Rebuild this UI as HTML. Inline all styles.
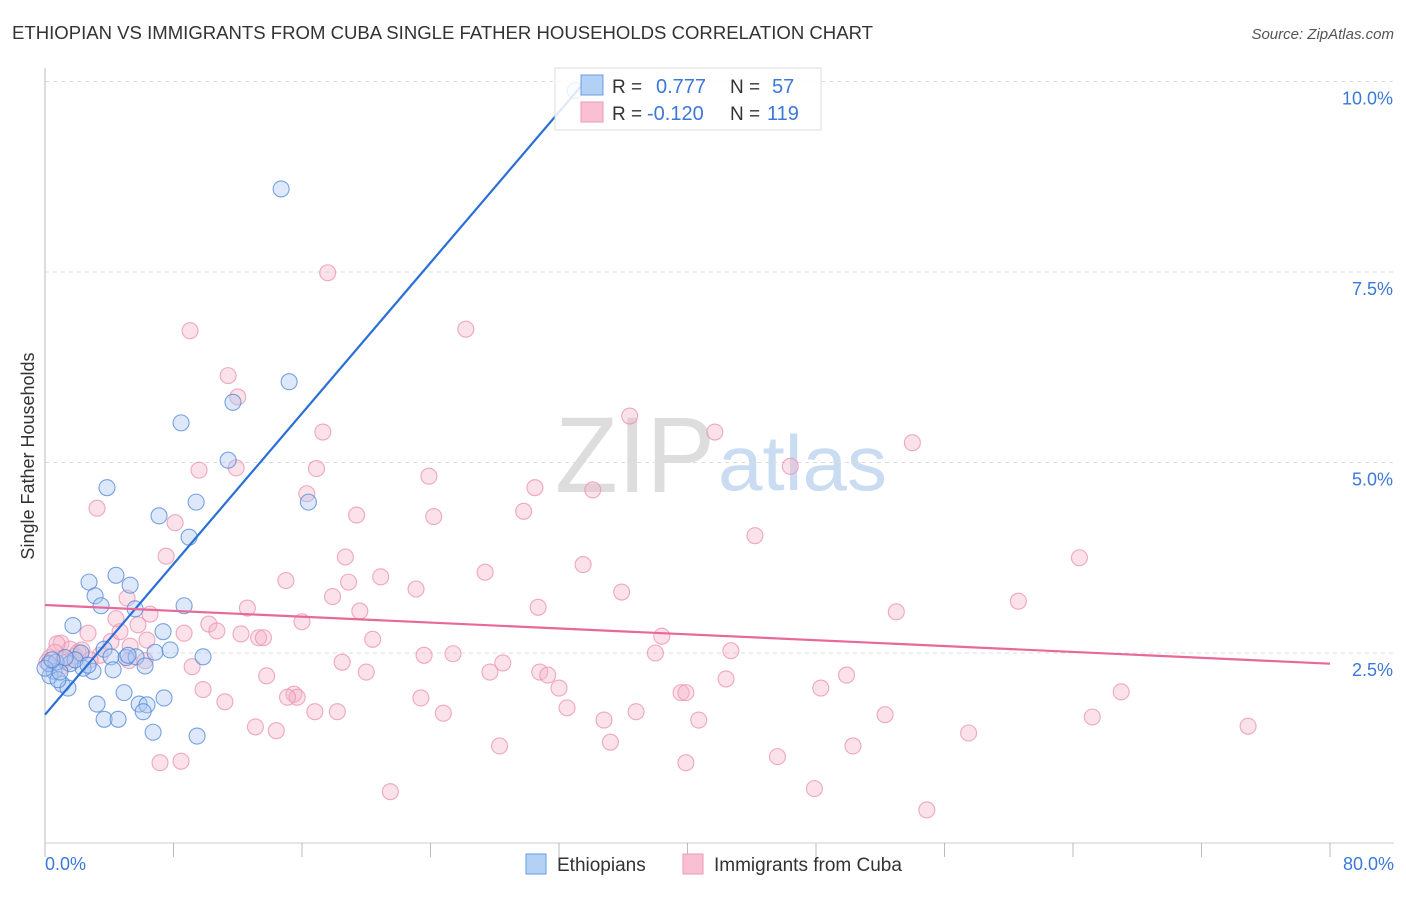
<!DOCTYPE html>
<html><head><meta charset="utf-8"><style>
body{margin:0;background:#fff;font-family:"Liberation Sans",sans-serif;}
svg text{font-family:"Liberation Sans",sans-serif;}
</style></head><body>
<svg id="chart" width="1406" height="892" viewBox="0 0 1406 892" xmlns="http://www.w3.org/2000/svg">
<text x="12" y="39" font-size="18" fill="#333" textLength="861" lengthAdjust="spacingAndGlyphs">ETHIOPIAN VS IMMIGRANTS FROM CUBA SINGLE FATHER HOUSEHOLDS CORRELATION CHART</text>
<text x="1394" y="39" font-size="15" fill="#555" text-anchor="end" font-style="italic">Source: ZipAtlas.com</text>
<g>
<text x="555" y="492" font-size="108" fill="#ddd" font-family="Liberation Serif" textLength="160" lengthAdjust="spacingAndGlyphs">ZIP</text>
<text x="718" y="490" font-size="78" fill="#c9dcf2" textLength="169" lengthAdjust="spacingAndGlyphs">atlas</text>
</g>
<g id="grid"></g>
<g id="axes"></g>
<g id="pts"></g>
<g id="trends"></g>
<text transform="translate(34,456) rotate(-90)" font-size="18" fill="#333" text-anchor="middle">Single Father Households</text>
<text x="45" y="870" font-size="18" fill="#3b78d8">0.0%</text>
<text x="1394" y="870" font-size="18" fill="#3b78d8" text-anchor="end">80.0%</text>
<g>
<rect x="555" y="68" width="266" height="62" fill="#fff" fill-opacity="0.85" stroke="#ddd"/>
<rect x="581" y="75" width="22" height="20" fill="#b3d0f5" stroke="#6a9be0"/>
<rect x="581" y="102" width="22" height="20" fill="#f8c0d2" stroke="#ec9ab6"/>
<text x="612" y="93" font-size="19" fill="#333">R =</text>
<text x="656" y="93" font-size="20" fill="#3b78d8">0.777</text>
<text x="730" y="93" font-size="19" fill="#333">N =</text>
<text x="772" y="93" font-size="20" fill="#3b78d8">57</text>
<text x="612" y="120" font-size="19" fill="#333">R =</text>
<text x="647" y="120" font-size="20" fill="#3b78d8">-0.120</text>
<text x="730" y="120" font-size="19" fill="#333">N =</text>
<text x="767" y="120" font-size="20" fill="#3b78d8">119</text>
</g>
<g>
<rect x="526" y="854" width="20" height="20" fill="#b3d0f5" stroke="#6a9be0"/>
<text x="557" y="871" font-size="19" fill="#333">Ethiopians</text>
<rect x="683" y="854" width="20" height="20" fill="#f8c0d2" stroke="#ec9ab6"/>
<text x="714" y="871" font-size="19" fill="#333">Immigrants from Cuba</text>
</g>
</svg>
<script>
const yTicks=[2.5,5.0,7.5,10.0];
const xTicks=[0,8,16,24,32,40,48,56,64,72,80];
const ethX=[33.0,14.7,15.2,8.47,11.7,11.4,3.86,9.41,16.4,7.10,8.97,4.42,2.74,5.30,3.12,3.49,8.66,5.61,7.35,1.74,3.68,2.24,4.11,5.05,5.67,6.85,7.79,9.84,6.23,4.24,2.99,2.37,1.56,0.56,0.31,1.06,1.43,0.81,4.92,7.41,3.24,5.86,6.35,3.68,4.55,6.11,6.73,9.47,0.25,0.69,1.87,2.68,0.93,1.25,5.17,0.0,0.44];
const ethY=[9.88,8.59,6.06,5.52,5.79,5.03,4.67,4.48,4.48,4.30,4.02,3.52,3.43,3.39,3.25,3.12,3.12,3.08,2.78,2.86,2.55,2.50,2.45,2.44,2.45,2.51,2.54,2.45,2.33,2.28,2.26,2.30,2.36,2.26,2.20,2.09,2.04,2.15,1.98,1.91,1.83,1.83,1.82,1.63,1.63,1.73,1.46,1.41,2.36,2.38,2.41,2.34,2.25,2.44,2.47,2.30,2.41];
const cubX=[17.6,9.03,26.2,11.4,12.0,36.4,41.7,17.3,54.0,9.59,11.9,16.9,23.9,46.4,30.5,34.1,16.3,3.24,29.8,19.4,24.2,8.10,44.2,64.4,7.54,18.7,33.5,27.4,20.9,15.0,18.9,23.1,35.9,60.6,5.11,17.9,12.6,30.7,53.0,19.6,6.54,4.42,16.0,10.2,10.7,2.68,8.66,12.2,6.35,13.3,13.6,20.4,38.4,1.00,4.11,5.30,1.56,3.43,23.6,25.4,38.0,42.7,5.23,6.23,18.5,28.5,27.7,30.8,31.3,20.0,13.8,9.16,49.9,42.4,32.0,9.84,15.5,15.7,15.1,39.6,39.9,48.3,67.0,11.2,23.4,32.5,16.8,18.2,24.8,36.8,52.3,65.2,34.8,40.7,13.1,14.4,74.9,57.5,35.2,28.3,50.3,7.16,8.47,45.6,39.9,47.9,21.5,54.9,0.75,0.31,0.12,0.93,1.87,2.30,2.80,1.18,0.62,1.37,4.67,5.79,2.06];
const cubY=[7.49,6.73,6.75,6.14,5.86,5.61,5.40,5.40,5.26,4.90,4.93,4.92,4.82,4.95,4.67,4.64,4.59,4.40,4.36,4.31,4.29,4.21,4.04,3.75,3.77,3.76,3.66,3.56,3.50,3.45,3.43,3.34,3.30,3.18,3.22,3.24,3.09,3.10,3.04,3.05,3.01,2.95,2.91,2.88,2.79,2.76,2.76,2.75,2.67,2.70,2.70,2.68,2.72,2.63,2.65,2.59,2.55,2.47,2.47,2.49,2.50,2.53,2.40,2.40,2.38,2.37,2.25,2.25,2.21,2.25,2.20,2.32,2.21,2.16,2.04,2.02,1.96,1.92,1.92,1.98,1.98,2.04,1.99,1.86,1.91,1.78,1.73,1.73,1.71,1.73,1.69,1.66,1.62,1.62,1.53,1.48,1.54,1.45,1.33,1.28,1.28,1.06,1.08,1.14,1.06,0.72,0.68,0.44,2.62,2.44,2.38,2.30,2.46,2.54,2.41,2.41,2.51,2.38,2.78,2.87,2.51];
const ethTrend=[[0,1.69],[33.5,9.97]];
const cubTrend=[[0,3.13],[80,2.36]];

const X0=45,X1=1330,Y0=843.5,YPER=76.2;
const sx=v=>X0+(v/80)*(X1-X0);
const sy=v=>Y0-v*YPER;
const NS='http://www.w3.org/2000/svg';
function mk(tag,attrs,parent){const e=document.createElementNS(NS,tag);for(const k in attrs)e.setAttribute(k,attrs[k]);parent.appendChild(e);return e;}
const grid=document.getElementById('grid'),axes=document.getElementById('axes');
yTicks.forEach(t=>{
  const l=mk('line',{x1:45,x2:1394,y1:sy(t),y2:sy(t),stroke:'#ddd','stroke-dasharray':'4,4'},grid);
  
  
  const tx=mk('text',{x:1393,y:sy(t)+23,'font-size':18,fill:'#3b78d8','text-anchor':'end'},grid);
  tx.textContent=t.toFixed(1)+'%';
  
  
});
mk('line',{x1:45,x2:45,y1:68,y2:843,stroke:'#bbb'},axes);
mk('line',{x1:45,x2:1394,y1:843,y2:843,stroke:'#ccc'},axes);
xTicks.forEach(t=>{
  const l=mk('line',{x1:sx(t),x2:sx(t),y1:843,y2:857,stroke:'#bbb'},axes);
  
  
});
const pts=document.getElementById('pts');
function dots(xs,ys,fill,stroke,name){
  xs.forEach((x,i)=>{
    const c=mk('circle',{cx:sx(x),cy:sy(ys[i]),r:8,fill:fill,'fill-opacity':0.4,stroke:stroke,'stroke-opacity':0.75,'stroke-width':1.1},pts);
    
    
  });
}
dots(cubX,cubY,'#f6b3c9','#e98fae','cuba-point');
dots(ethX,ethY,'#a9c9f2','#4f86d6','ethiopian-point');
const tr=document.getElementById('trends');
const lb=mk('line',{x1:sx(ethTrend[0][0]),y1:sy(ethTrend[0][1]),x2:sx(ethTrend[1][0]),y2:sy(ethTrend[1][1]),stroke:'#2a6fd6','stroke-width':2.2},tr);


const lp=mk('line',{x1:sx(cubTrend[0][0]),y1:sy(cubTrend[0][1]),x2:sx(cubTrend[1][0]),y2:sy(cubTrend[1][1]),stroke:'#e8689a','stroke-width':2.2},tr);


</script>
</body></html>
